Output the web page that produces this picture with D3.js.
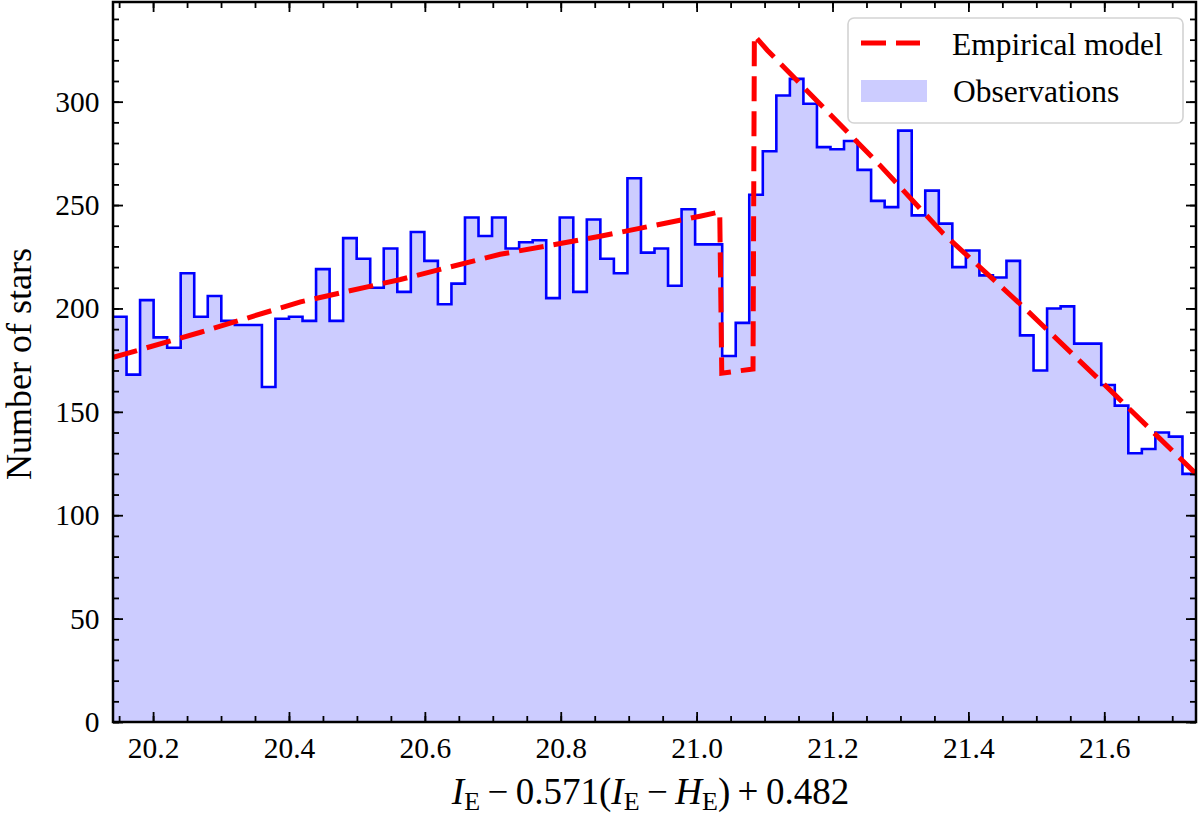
<!DOCTYPE html>
<html>
<head>
<meta charset="utf-8">
<script src="https://cdn.jsdelivr.net/npm/d3@7"></script>
<style>
    body { margin: 0; background: #fff; }
    svg text { font-family: "Liberation Serif", "Times New Roman", serif; fill: #000; }
</style>
</head>
<body>
<div id="chart"></div>
<script>
// histogram: 80 bins between binStart and binEnd
const binStart = 20.141
const binEnd = 21.735
const binCounts = [
    196, 168, 204, 186, 181, 217, 196, 206, 194, 192,
    192, 162, 195, 196, 194, 219, 194, 234, 224, 210,
    229, 208, 237, 223, 202, 212, 244, 235, 244, 229,
    232, 233, 205, 244, 208, 243, 224, 217, 263, 227,
    229, 211, 248, 231, 231, 177, 193, 255, 276, 303,
    311, 299, 278, 277, 281, 267, 252, 249, 286, 245,
    257, 241, 220, 228, 216, 215, 223, 187, 170, 200,
    201, 183, 183, 163, 153, 130, 132, 140, 138, 120
]

// empirical model
const modelX = [20.141, 20.270, 20.417, 20.564, 20.711, 20.858, 21.005, 21.034,
    21.037, 21.083, 21.085, 21.104, 21.270, 21.363, 21.481, 21.614, 21.735]
const modelY = [176.3, 188.5, 203.2, 214.0, 226.2, 234.9, 244.6, 246.7,
    168.7, 170.7, 332.0, 324.9, 269.2, 236.2, 200.7, 158.8, 120.0]

const xTicks = [20.2, 20.4, 20.6, 20.8, 21.0, 21.2, 21.4, 21.6]
const yTicks = [0, 50, 100, 150, 200, 250, 300]
const yMax = 348.2

;(function () {
    const margin = { top: 2, right: 4, bottom: 94, left: 113 }

    const width = 1200
    const height = 816

    const chartWidth = width - margin.left - margin.right
    const chartHeight = height - margin.top - margin.bottom

    const fontFamily = '"Liberation Serif", "Times New Roman", serif'

    const xPositionScale = d3.scaleLinear().domain([binStart, binEnd]).range([0, chartWidth])
    const yPositionScale = d3.scaleLinear().domain([0, yMax]).range([chartHeight, 0])

    const svg = d3.select("#chart")
        .append("svg")
        .attr("width", width)
        .attr("height", height)
        .append("g")
        .attr("transform", `translate(${margin.left},${margin.top})`)

    svg.append("clipPath")
        .attr("id", "plot-clip")
        .append("rect")
        .attr("width", chartWidth)
        .attr("height", chartHeight)

    const plot = svg.append("g").attr("clip-path", "url(#plot-clip)")

    // bin edges -> step points (last point closes the final bin)
    const binWidth = (binEnd - binStart) / binCounts.length
    const steps = binCounts.map((c, i) => ({ x: binStart + i * binWidth, y: c }))
    steps.push({ x: binEnd, y: binCounts[binCounts.length - 1] })

    const area = d3.area()
        .curve(d3.curveStepAfter)
        .x(d => xPositionScale(d.x))
        .y0(yPositionScale(0))
        .y1(d => yPositionScale(d.y))

    const stepLine = d3.line()
        .curve(d3.curveStepAfter)
        .x(d => xPositionScale(d.x))
        .y(d => yPositionScale(d.y))

    plot.append("path")
        .datum(steps)
        .attr("fill", "#ccccff")
        .attr("d", area)

    plot.append("path")
        .datum(steps)
        .attr("fill", "none")
        .attr("stroke", "#0000ff")
        .attr("stroke-width", 2.6)
        .attr("d", stepLine)

    const modelLine = d3.line()
        .x((d, i) => xPositionScale(modelX[i]))
        .y(d => yPositionScale(d))

    plot.append("path")
        .datum(modelY)
        .attr("fill", "none")
        .attr("stroke", "#ff0000")
        .attr("stroke-width", 5)
        .attr("stroke-dasharray", "25,10")
        .attr("d", modelLine)

    // axes: ticks point inwards on all four sides
    const xMinor = d3.range(20.15, 21.74, 0.05)
    const yMinor = d3.range(0, 350, 10)

    function styleAxis(g) {
        g.attr("font-family", fontFamily).attr("font-size", 29.5)
        g.select(".domain").remove()
        g.selectAll("line").attr("stroke", "#000").attr("stroke-width", 1.8)
        g.selectAll("text").attr("fill", "#000").style("font-family", fontFamily)
    }

    svg.append("g")
        .attr("transform", `translate(0,${chartHeight})`)
        .call(d3.axisBottom(xPositionScale).tickValues(xMinor).tickSize(-6).tickFormat(""))
        .call(styleAxis)
    svg.append("g")
        .attr("class", "axis x-axis")
        .attr("transform", `translate(0,${chartHeight})`)
        .call(d3.axisBottom(xPositionScale).tickValues(xTicks).tickSize(-10).tickPadding(15).tickFormat(d3.format(".1f")))
        .call(styleAxis)
    svg.append("g")
        .call(d3.axisTop(xPositionScale).tickValues(xMinor).tickSize(-6).tickFormat(""))
        .call(styleAxis)
    svg.append("g")
        .call(d3.axisTop(xPositionScale).tickValues(xTicks).tickSize(-10).tickFormat(""))
        .call(styleAxis)

    svg.append("g")
        .call(d3.axisLeft(yPositionScale).tickValues(yMinor).tickSize(-6).tickFormat(""))
        .call(styleAxis)
    svg.append("g")
        .attr("class", "axis y-axis")
        .call(d3.axisLeft(yPositionScale).tickValues(yTicks).tickSize(-10).tickPadding(13.5))
        .call(styleAxis)
    svg.append("g")
        .attr("transform", `translate(${chartWidth},0)`)
        .call(d3.axisRight(yPositionScale).tickValues(yMinor).tickSize(-6).tickFormat(""))
        .call(styleAxis)
    svg.append("g")
        .attr("transform", `translate(${chartWidth},0)`)
        .call(d3.axisRight(yPositionScale).tickValues(yTicks).tickSize(-10).tickFormat(""))
        .call(styleAxis)

    svg.append("rect")
        .attr("width", chartWidth)
        .attr("height", chartHeight)
        .attr("fill", "none")
        .attr("stroke", "#000")
        .attr("stroke-width", 2.5)

    // axis labels
    svg.append("text")
        .attr("transform", `translate(${31 - margin.left},${chartHeight / 2 + 2}) rotate(-90)`)
        .attr("text-anchor", "middle")
        .attr("font-size", 36)
        .text("Number of stars")

    const xLabel = svg.append("text")
        .attr("x", chartWidth / 2 - 4)
        .attr("y", 804 - margin.top)
        .attr("text-anchor", "middle")
        .attr("font-size", 37)

    const parts = [
        ["I", "italic"], ["E", "sub"], ["\u2009\u2212\u20090.571(", ""], ["I", "italic"], ["E", "sub"],
        ["\u2009\u2212\u2009", ""], ["H", "italic"], ["E", "sub"], [")\u2009+\u20090.482", ""]
    ]
    parts.forEach(function (p, i) {
        const t = xLabel.append("tspan").text(p[0])
        if (p[1] === "italic") t.attr("font-style", "italic")
        if (p[1] === "sub") t.attr("font-size", 26).attr("dy", 6)
        // undo subscript shift after each subscript
        if (i > 0 && parts[i - 1][1] === "sub") t.attr("dy", -6)
    })

    // legend
    const legend = svg.append("g")
        .attr("transform", `translate(${848 - margin.left},${18 - margin.top})`)

    legend.append("rect")
        .attr("width", 335)
        .attr("height", 105)
        .attr("rx", 6)
        .attr("fill", "#fff")
        .attr("fill-opacity", 0.8)
        .attr("stroke", "#d3d3d3")
        .attr("stroke-width", 1.6)

    legend.append("line")
        .attr("x1", 13).attr("x2", 72)
        .attr("y1", 25).attr("y2", 25)
        .attr("stroke", "#ff0000")
        .attr("stroke-width", 5)
        .attr("stroke-dasharray", "25,10")

    legend.append("rect")
        .attr("x", 13).attr("y", 62)
        .attr("width", 66).attr("height", 22)
        .attr("fill", "#ccccff")

    legend.append("text")
        .attr("x", 104).attr("y", 37)
        .attr("font-size", 31.5)
        .text("Empirical model")

    legend.append("text")
        .attr("x", 105).attr("y", 84)
        .attr("font-size", 31.5)
        .text("Observations")
})()
</script>
</body>
</html>
